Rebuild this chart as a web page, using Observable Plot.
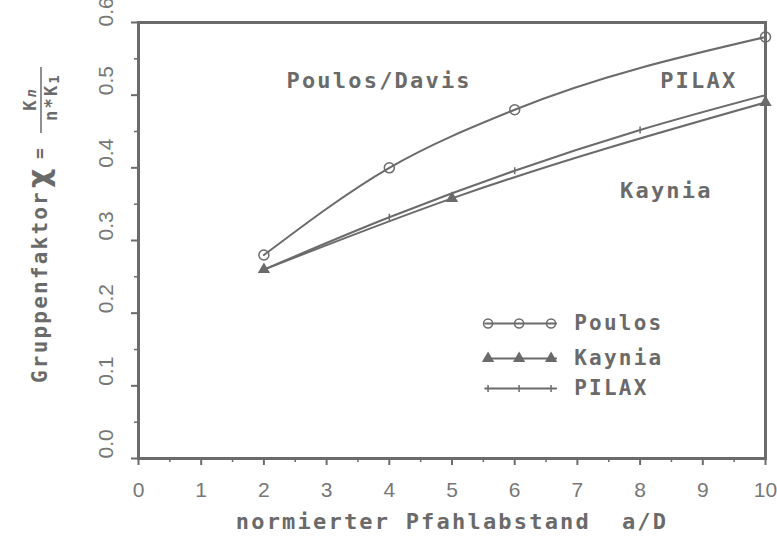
<!DOCTYPE html>
<html><head><meta charset="utf-8">
<script src="https://cdn.jsdelivr.net/npm/d3@7"></script>
<script src="https://cdn.jsdelivr.net/npm/@observablehq/plot@0.6"></script>
<style>
html,body{margin:0;padding:0;background:#fff;}
#chart svg{display:block;}
g[font-family="DejaVu Sans Mono"] text{letter-spacing:2.2px;}
.mono{letter-spacing:2.2px;}
</style></head><body><div id="chart"></div>
<script>
// ---- data ----
const xTicks = [0,1,2,3,4,5,6,7,8,9,10];
const yTicks = [0,0.1,0.2,0.3,0.4,0.5,0.6];
const poulosX = [2,4,6,10];
const poulosY = [0.28,0.40,0.48,0.58];
const kayniaX = [2,5,10];
const kayniaY = [0.26,0.358,0.49];
const pilaxX = [2,4,6,8,10];
const pilaxY = [0.26,0.332,0.396,0.452,0.50];
const seriesNames = ["Poulos","Kaynia","PILAX"];
const annoText = ["Poulos/Davis","PILAX","Kaynia"];
const annoX = [2.36,8.32,7.68];
const annoY = [0.519,0.5195,0.368];
const xLabel = "normierter Pfahlabstand\u00a0\u00a0a/D";

// ---- layout / style ----
const ink = "#6b6b6b";
const txt = "#6a6a6a";
const tickFont = "Liberation Sans, Arial, sans-serif";
const mono = "DejaVu Sans Mono";
const legendX = [5.575, 6.07, 6.58];
const legendRowY = [0.1858, 0.1376, 0.0963];
const legendTextX = 6.95;

const poulos = poulosX.map((x,i)=>({x, y:poulosY[i]}));
const kaynia = kayniaX.map((x,i)=>({x, y:kayniaY[i]}));
const pilax = pilaxX.map((x,i)=>({x, y:pilaxY[i]}));
const minorX = xTicks.slice(0,-1).map(d=>d+0.5);
const minorY = yTicks.slice(0,-1).map(d=>+(d+0.05).toFixed(2));
const yMax = yTicks[yTicks.length-1];

const legendPts = seriesNames.flatMap((s,i)=>legendX.map(x=>({s, x, y:legendRowY[i]})));
const legendLab = seriesNames.map((s,i)=>({s, x:legendTextX, y:legendRowY[i]}));
const legendLines = seriesNames.flatMap((s,i)=>[{s,x:5.53,y:legendRowY[i]},{s,x:6.66,y:legendRowY[i]}]);

const tickSymbol = {draw(ctx, size){ const r = Math.sqrt(size/Math.PI); ctx.moveTo(0,-r); ctx.lineTo(0,r); }};
const yLabOpts = {y:d=>d, frameAnchor:"left", dx:-32, rotate:-90, text:d=>d.toFixed(1), fontSize:21, fontFamily:tickFont, fill:"#777"};

const chart = Plot.plot({
  width: 777, height: 546,
  marginLeft: 138, marginRight: 12, marginTop: 22, marginBottom: 88,
  x: {domain:[0,10]},
  y: {domain:[0,0.6]},
  style: {background:"#fff", color: txt},
  marks: [
    Plot.axisX(xTicks, {tickSize:7, tickFormat:()=>"", label:null, stroke:ink, strokeWidth:2}),
    Plot.axisX(minorX, {tickSize:4, tickFormat:()=>"", label:null, stroke:ink, strokeWidth:1.5}),
    Plot.axisY(yTicks, {tickSize:7, tickFormat:()=>"", label:null, stroke:ink, strokeWidth:2}),
    Plot.axisY(minorY, {tickSize:4, tickFormat:()=>"", label:null, stroke:ink, strokeWidth:1.5}),
    Plot.text(xTicks, {x:d=>d, frameAnchor:"bottom", dy:38, text:d=>String(d), fontSize:21, fontFamily:tickFont, fill:"#777"}),
    Plot.text(yTicks.filter(d=>d<yMax), yLabOpts),
    Plot.text(yTicks.filter(d=>d===yMax), {...yLabOpts, dy:4}),
    Plot.frame({stroke:ink, strokeWidth:3}),
    Plot.line(poulos, {x:"x", y:"y", curve:"monotone-x", stroke:ink, strokeWidth:2}),
    Plot.line(kaynia, {x:"x", y:"y", curve:"monotone-x", stroke:ink, strokeWidth:2}),
    Plot.line(pilax, {x:"x", y:"y", curve:"monotone-x", stroke:ink, strokeWidth:2}),
    Plot.dot(poulos, {x:"x", y:"y", r:5, stroke:ink, strokeWidth:1.5, fill:"none"}),
    Plot.dot(kaynia, {x:"x", y:"y", symbol:"triangle", r:3.6, fill:ink, stroke:ink}),
    Plot.dot(pilax, {x:"x", y:"y", symbol:tickSymbol, r:3.5, stroke:ink, strokeWidth:1.5}),
    // legend
    Plot.line(legendLines, {x:"x", y:"y", z:"s", stroke:ink, strokeWidth:2}),
    Plot.dot(legendPts.filter(d=>d.s==="Poulos"), {x:"x", y:"y", r:4.5, stroke:ink, strokeWidth:1.5, fill:"none"}),
    Plot.dot(legendPts.filter(d=>d.s==="Kaynia"), {x:"x", y:"y", symbol:"triangle", r:3.6, fill:ink, stroke:ink}),
    Plot.dot(legendPts.filter(d=>d.s==="PILAX"), {x:"x", y:"y", symbol:tickSymbol, r:3.5, stroke:ink, strokeWidth:1.5}),
    Plot.text(legendLab, {x:"x", y:"y", text:"s", textAnchor:"start", fontSize:21, fontWeight:"bold", fontFamily:mono, fill:txt}),
    // annotations
    Plot.text(annoText, {x:(d,i)=>annoX[i], y:(d,i)=>annoY[i], text:d=>d, textAnchor:"start", fontSize:22, fontWeight:"bold", fontFamily:mono, fill:txt}),
    // x axis label
    Plot.text([xLabel], {frameAnchor:"bottom", dy:70, text:d=>d, fontSize:22, fontWeight:"bold", fontFamily:mono, fill:txt})
  ]
});

const svg = d3.select(chart);

// y axis label (rotated, with fraction)
const g = svg.append("g").attr("transform","translate(40,383) rotate(-90)")
  .attr("fill", txt).attr("font-family", "DejaVu Sans Mono, monospace").attr("font-weight","bold").attr("text-anchor","start");
g.append("text").attr("class","mono").attr("x",0).attr("y",7).attr("font-size",21).text("Gruppenfaktor");
g.append("text").attr("x",195).attr("y",9).attr("font-size",30).attr("font-family","DejaVu Sans").text("χ");
g.append("text").attr("x",224).attr("y",6).attr("font-size",18).text("=");
g.append("line").attr("x1",250).attr("x2",316).attr("y1",1).attr("y2",1).attr("stroke",ink).attr("stroke-width",1.5);
const num = g.append("text").attr("x",283).attr("y",-4).attr("text-anchor","middle").attr("font-size",17);
num.append("tspan").text("K");
num.append("tspan").attr("dx",3).attr("font-size",14).attr("font-style","italic").text("n");
const den = g.append("text").attr("class","mono").attr("x",286).attr("y",17).attr("text-anchor","middle").attr("font-size",17);
den.append("tspan").text("n*K");
den.append("tspan").attr("dy",2).attr("font-size",14).text("1");

document.getElementById("chart").appendChild(chart);
</script></body></html>
